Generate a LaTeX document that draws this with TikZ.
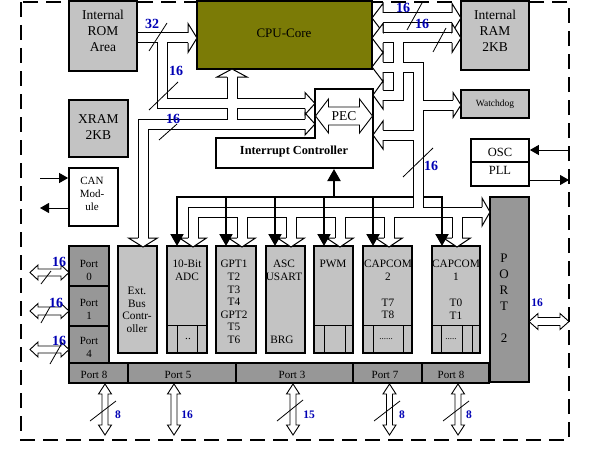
\documentclass[tikz,border=0pt]{standalone}
\usepackage{fontspec}
\setmainfont{Liberation Serif}
\usetikzlibrary{arrows.meta}
\definecolor{lgray}{HTML}{C3C3C3}
\definecolor{dgray}{HTML}{979797}
\definecolor{cpuolive}{HTML}{7B7B06}
\definecolor{numblue}{HTML}{0000B4}
\newcommand\fsz[2]{\fontsize{#1}{#2}\selectfont}
% hollow arrow heads (open at the shaft)
\newcommand\hhead[4]{\filldraw[fill=white,draw=black,line width=1pt] ({#1},{#2-5}) -- ({#1},{#2-#4}) -- ({#3},{#2}) -- ({#1},{#2+#4}) -- ({#1},{#2+5});}
\newcommand\vhead[4]{\filldraw[fill=white,draw=black,line width=1pt] ({#1-5},{#2}) -- ({#1-#4},{#2}) -- ({#1},{#3}) -- ({#1+#4},{#2}) -- ({#1+5},{#2});}
% double headed block arrows
\newcommand\hdarrow[6]{\filldraw[fill=white,line width=0.9pt] ({#1},{#3}) -- ({#1+#6},{#3-#5}) -- ({#1+#6},{#3-#4}) -- ({#2-#6},{#3-#4}) -- ({#2-#6},{#3-#5}) -- ({#2},{#3}) -- ({#2-#6},{#3+#5}) -- ({#2-#6},{#3+#4}) -- ({#1+#6},{#3+#4}) -- ({#1+#6},{#3+#5}) -- cycle;}
\newcommand\vdarrow[6]{\filldraw[fill=white,line width=0.9pt] ({#3},{#1}) -- ({#3-#5},{#1+#6}) -- ({#3-#4},{#1+#6}) -- ({#3-#4},{#2-#6}) -- ({#3-#5},{#2-#6}) -- ({#3},{#2}) -- ({#3+#5},{#2-#6}) -- ({#3+#4},{#2-#6}) -- ({#3+#4},{#1+#6}) -- ({#3+#5},{#1+#6}) -- cycle;}
\newcommand\bx[7]{\node[#2,minimum width={#5-#3},minimum height={#6-#4}] (#1) at ({(#3+#5)/2},{(#4+#6)/2}) {#7};}
\newcommand\allbuses[1]{%
 \draw[#1] (137,38) -- (188,38);
 \draw[#1] (162,38) -- (162,103.5) -- (305,103.5);
 \draw[#1] (305,124) -- (143,124) -- (143,238);
 \draw[#1] (232,124) -- (232,77);
 \draw[#1] (383,18) -- (452,18);
 \draw[#1] (383,38) -- (452,38);
 \draw[#1] (398,38) -- (398,95) -- (383,95);
 \draw[#1] (383,67) -- (418,67) -- (418,212);
 \draw[#1] (418,105) -- (453,105);
 \draw[#1] (418,135) -- (383,135);
 \draw[#1] (193,238) -- (193,212) -- (482,212);
 \foreach \xx in {242,291,340,389,457} {\draw[#1] (\xx,212) -- (\xx,238);}
}
\begin{document}
\begin{tikzpicture}[x=1pt,y=-1pt,line join=miter,
  lbox/.style={draw,line width=1.8pt,fill=lgray,inner sep=0pt},
  pbox/.style={draw,line width=1.2pt,fill=lgray,inner sep=0pt},
  dbox/.style={draw,line width=1.8pt,fill=dgray,inner sep=0pt},
  wbox/.style={draw,line width=1.8pt,fill=white,inner sep=0pt},
  cbox/.style={draw,line width=1.8pt,fill=cpuolive,inner sep=0pt},
  txt/.style={inner sep=0pt,align=center},
  num/.style={inner sep=0pt,text=numblue,font=\bfseries\fsz{14}{14}},
  snum/.style={inner sep=0pt,text=numblue,font=\bfseries\fsz{11.5}{12}},
  slash/.style={line width=0.8pt},
  irq/.style={line width=2pt,-{Triangle[length=12pt,width=13pt]}},
  sig/.style={line width=1pt,-{Triangle[length=9pt,width=10pt]}}]
\useasboundingbox (0,0) rectangle (596,452);
% outer dashed border
\draw[line width=2.2pt,dash pattern=on 15pt off 8pt] (21,2) rectangle (569,440);
% interrupt distribution line (under the data buses)
\draw[line width=2pt,line cap=rect] (177,197) -- (442,197);
% hollow data buses
\allbuses{line width=11pt,draw=black}
\allbuses{line width=9pt,draw=white}
% boxes
\bx{rom}{lbox}{69}{1}{137}{71}{}
\bx{cpu}{cbox}{197}{1}{372}{69}{}
\bx{ram}{lbox}{461}{1}{529}{70}{}
\bx{wd}{lbox}{461}{90}{529}{118}{}
\bx{xram}{lbox}{69}{100}{128}{157}{}
\bx{can}{wbox}{69}{168}{118}{226}{}
\bx{osc}{wbox}{471}{139}{529}{186}{}
\draw[line width=1.8pt] (osc.west |- 0,162) -- (osc.east |- 0,162);
\node[txt,font=\fsz{13.5}{16}] (romt) at (103,31) {Internal\\ROM\\Area};
\node[txt,font=\fsz{13}{13}] (cput) at (284,33) {CPU-Core};
\node[txt,font=\fsz{13.5}{16}] (ramt) at (495,31) {Internal\\RAM\\2KB};
\node[txt,font=\fsz{9.5}{10}] (wdt) at (495,104) {Watchdog};
\node[txt,font=\fsz{13.5}{16}] (xramt) at (98.5,127) {XRAM\\2KB};
\node[txt,font=\fsz{11}{13}] (cant) at (92,194) {CAN\\Mod-\\ule};
\node[txt,font=\fsz{12.5}{13}] (osct) at (500,152) {OSC};
\node[txt,font=\fsz{12.5}{13}] (pllt) at (500,170) {PLL};
% PEC + interrupt controller
\filldraw[fill=white,line width=1.8pt] (315,89) -- (373,89) -- (373,168) -- (216,168) -- (216,138) -- (315,138) -- cycle;
\coordinate (icbottom) at (334,169);
\hdarrow{315.5}{372.5}{116}{9}{17}{13}
\node[txt,font=\fsz{13.5}{14}] (pec) at (344,116) {PEC};
\node[txt,font=\bfseries\fsz{12.3}{13}] (ic) at (294,152) {Interrupt Controller};
% peripheral boxes
\bx{ext}{pbox}{118}{246}{157}{353}{}
\bx{adc}{pbox}{167}{246}{207}{353}{}
\bx{gpt}{pbox}{216}{246}{256}{353}{}
\bx{asc}{pbox}{266}{246}{305}{353}{}
\bx{pwm}{pbox}{314}{246}{353}{353}{}
\bx{cc2}{pbox}{363}{246}{412}{353}{}
\bx{cc1}{pbox}{432}{246}{480}{353}{}
\draw[line width=1pt] (167,325) -- (207,325) (177,325) -- (177,353) (197,325) -- (197,353);
\draw[line width=1pt] (314,325) -- (353,325) (324,325) -- (324,353) (345,325) -- (345,353);
\draw[line width=1pt] (363,325) -- (412,325) (373,325) -- (373,353) (403,325) -- (403,353);
\draw[line width=1pt] (432,325) -- (480,325) (441,325) -- (441,353) (462,325) -- (462,353) (472,325) -- (472,353);
\begin{scope}[every node/.style={txt,font=\fsz{11.3}{12.5}}]
\node (extt) at (137,310) {Ext.\\Bus\\Contr-\\oller};
\node (adct) at (187,270.5) {10-Bit\\ADC};
\node (adcd) at (188,339) {..};
\node[font=\fsz{11.3}{12.6}] (gptt) at (234,302) {GPT1\\T2\\T3\\T4\\GPT2\\T5\\T6};
\node (asct) at (284,270.5) {ASC\\USART};
\node (brg) at (282,340) {BRG};
\node (pwmt) at (333,264) {PWM};
\node (cc2t) at (388,270.5) {CAPCOM\\2};
\node (cc2s) at (388,309) {T7\\T8};
\node[font=\fsz{9}{10}] (cc2d) at (386,339) {......};
\node (cc1t) at (456,270.5) {CAPCOM\\1};
\node (cc1s) at (456,309) {T0\\T1};
\node[font=\fsz{9}{10}] (cc1d) at (451,339) {.....};
\end{scope}
% ports
\bx{p0}{dbox}{69}{246}{109}{286}{}
\bx{p1}{dbox}{69}{286}{109}{326}{}
\bx{p4}{dbox}{69}{326}{109}{363}{}
\bx{p8a}{dbox}{69}{363}{128}{383}{}
\bx{p5}{dbox}{128}{363}{236}{383}{}
\bx{p3}{dbox}{236}{363}{353}{383}{}
\bx{p7}{dbox}{353}{363}{422}{383}{}
\bx{p8b}{dbox}{422}{363}{489}{383}{}
\bx{p2}{dbox}{490}{197}{529}{382}{}
\begin{scope}[every node/.style={txt,font=\fsz{11}{13}}]
\node (p0t) at (89,270) {Port\\0};
\node (p1t) at (89,309.5) {Port\\1};
\node (p4t) at (89,347.5) {Port\\4};
\node (p8at) at (94,375) {Port 8};
\node (p5t) at (178,375) {Port 5};
\node (p3t) at (292,375) {Port 3};
\node (p7t) at (385,375) {Port 7};
\node (p8bt) at (451,375) {Port 8};
\end{scope}
\begin{scope}[every node/.style={txt,font=\fsz{13}{13}}]
\node (pa) at (504,258) {P};
\node (pb) at (504,274) {O};
\node (pc) at (504,290) {R};
\node (pd) at (504,306) {T};
\node (pe) at (504,338) {2};
\end{scope}
% arrow heads of the buses
\hhead{188}{38}{197}{14.5}
\hhead{305}{103.5}{315}{11}
\hhead{305}{124}{315}{11}
\vhead{143}{238}{247}{14.5}
\vhead{232}{77}{69}{15}
\hhead{383}{18}{372}{14.5}
\hhead{383}{38}{372}{14.5}
\hhead{383}{67}{372}{14.5}
\hhead{383}{95}{373}{14}
\hhead{383}{135}{373}{14}
\hhead{452}{18}{461}{14.5}
\hhead{452}{38}{461}{14.5}
\hhead{453}{105}{461}{12.5}
\hhead{482}{212}{490}{14}
\foreach \xx in {193,242,291,340,389,457} {\vhead{\xx}{238}{247}{13.5}}
% interrupt lines
\coordinate (irqsrc) at (334,197);
\draw[irq] (irqsrc) -- (icbottom);
\foreach \xx/\tg in {177/adc,226/gpt,275/asc,324/pwm,373/cc2,442/cc1} {
  \draw[irq] (\xx,196) -- (\xx,246);}
% CAN and OSC signals
\coordinate (canin) at (40,178);
\coordinate (canout) at (40,208);
\draw[sig] (canin) -- (canin -| can.west);
\draw[sig] (canout -| can.west) -- (canout);
\coordinate (oscin) at (569,150);
\coordinate (pllout) at (569,180);
\draw[sig] (oscin) -- (oscin -| osc.east);
\draw[sig] (pllout -| osc.east) -- (pllout);
% port arrows
\hdarrow{30}{69}{272.5}{3.5}{7.5}{8}
\hdarrow{30}{69}{311}{4}{7.5}{8}
\hdarrow{30}{69}{349.5}{3.5}{7.5}{8}
\hdarrow{529}{569}{321.5}{4}{8}{9}
\foreach \xx in {105,174,293,389.5,458} {\vdarrow{384}{435}{\xx}{3}{6.5}{10}}
% bus width marks
\draw[slash] (167,23) -- (149,51);
\node[num] (n32) at (152,24) {32};
\draw[slash] (178,82) -- (149,110);
\node[num] (na) at (176,71) {16};
\draw[slash] (177,124) -- (159,140);
\node[num] (nb) at (173,119) {16};
\draw[slash] (422,3) -- (407,30);
\node[num] (nr1) at (403,8) {16};
\draw[slash] (446,28) -- (433,52);
\node[num] (nr2) at (422,24) {16};
\draw[slash] (433,148) -- (403,177);
\node[num] (nv) at (431,166) {16};
\draw[slash] (51,271) -- (41,284);
\node[num] (np0) at (59,262) {16};
\draw[slash] (50,307) -- (41,323);
\node[num] (np1) at (56,303) {16};
\draw[slash] (62,343) -- (50,364);
\node[num] (np4) at (59,341) {16};
\node[snum] (np2) at (537,303) {16};
\draw[slash] (90,421) -- (116,401);
\node[snum] (nb8a) at (118,415) {8};
\node[snum] (nb5) at (187,415) {16};
\draw[slash] (277,421) -- (303,400);
\node[snum] (nb3) at (309,415) {15};
\draw[slash] (374,421) -- (400,401);
\node[snum] (nb7) at (402,415) {8};
\draw[slash] (443,421) -- (469,401);
\node[snum] (nb8b) at (469,415) {8};
\end{tikzpicture}
\end{document}
